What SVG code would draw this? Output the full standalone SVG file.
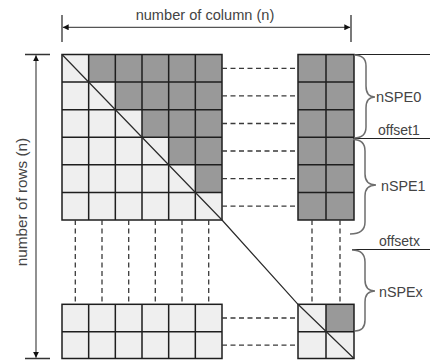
<svg xmlns="http://www.w3.org/2000/svg" width="430" height="364" viewBox="0 0 430 364">
  <defs>
    <style>
      .lt { fill: #efefef; }
      .dk { fill: #999999; }
      .grid { stroke: #1e1e1e; stroke-width: 1.5; fill: none; }
      .dash { stroke: #3a3a3a; stroke-width: 1.3; stroke-dasharray: 5 3.5; fill: none; }
      .dim { stroke: #555; stroke-width: 1.3; fill: none; }
      .tick { stroke: #333; stroke-width: 1.3; fill: none; }
      .brace { stroke: #6e6e6e; stroke-width: 1.5; fill: none; }
      .sep { stroke: #222; stroke-width: 1.2; fill: none; }
      .diag { stroke: #2a2a2a; stroke-width: 1.2; fill: none; }
      .lbl { font-family: "Liberation Sans", Arial, sans-serif; font-size: 14px; fill: #444; }
    </style>
    <marker id="arr" viewBox="0 0 8 8" refX="8" refY="4" markerWidth="6" markerHeight="6" orient="auto-start-reverse" markerUnits="userSpaceOnUse">
      <path d="M0,0 L8,4 L0,8 Z" fill="#111"/>
    </marker>
  </defs>

  <g id="main-grid">
    <rect class="lt" x="62" y="54.5" width="160" height="165.5"/>
    <polygon class="dk" points="88.67,54.5 222,54.5 222,192.42 195.33,192.42 195.33,164.83 168.67,164.83 168.67,137.25 142,137.25 142,109.67 115.33,109.67 115.33,82.08 88.67,82.08"/>
    <path class="grid" d="M88.67,54.5V220M115.33,54.5V220M142,54.5V220M168.67,54.5V220M195.33,54.5V220M62,82.08H222M62,109.67H222M62,137.25H222M62,164.83H222M62,192.42H222"/>
    <rect class="grid" x="62" y="54.5" width="160" height="165.5"/>
  </g>

  <g id="right-block">
    <rect class="dk" x="298" y="54.5" width="56" height="165.5"/>
    <path class="grid" d="M326,54.5V220M298,82.08H354M298,109.67H354M298,137.25H354M298,164.83H354M298,192.42H354"/>
    <rect class="grid" x="298" y="54.5" width="56" height="165.5"/>
  </g>

  <g id="bottom-grid">
    <rect class="lt" x="62" y="304.3" width="160" height="54.2"/>
    <path class="grid" d="M88.67,304.3V358.5M115.33,304.3V358.5M142,304.3V358.5M168.67,304.3V358.5M195.33,304.3V358.5M62,331.7H222"/>
    <rect class="grid" x="62" y="304.3" width="160" height="54.2"/>
  </g>

  <g id="bottom-right-block">
    <rect class="lt" x="298" y="304.3" width="56" height="54.2"/>
    <rect class="dk" x="326" y="304.3" width="28" height="27.4"/>
    <path class="grid" d="M326,304.3V358.5M298,331.7H354"/>
    <rect class="grid" x="298" y="304.3" width="56" height="54.2"/>
  </g>

  <g id="connectors">
    <!-- horizontal dashed links -->
    <path class="dash" d="M222,68.3H298M222,95.9H298M222,123.5H298M222,151H298M222,178.6H298M222,206.2H298M222,318H298M222,345.1H298"/>
    <!-- vertical dashed links -->
    <path class="dash" d="M75.3,220V304.3M102,220V304.3M128.7,220V304.3M155.3,220V304.3M182,220V304.3M208.7,220V304.3M312,220V304.3M340,220V304.3"/>
    <!-- diagonal -->
    <polyline class="diag" points="62,54.5 222,220 298,304.3 354,358.5"/>
    <!-- column dimension -->
    <path class="tick" d="M62,15V42M351,15V42"/>
    <line class="dim" x1="62.7" y1="27.3" x2="350.3" y2="27.3" marker-start="url(#arr)" marker-end="url(#arr)"/>
    <!-- row dimension -->
    <path class="tick" d="M25,54.5H50M25,358.5H50"/>
    <line class="dim" x1="36" y1="55.2" x2="36" y2="357.8" marker-start="url(#arr)" marker-end="url(#arr)"/>
    <!-- offset separators -->
    <path class="sep" d="M354,54.5H430M354,138.5H430M352,249.5H430"/>
    <!-- braces -->
    <path class="brace" d="M354,55 Q366,55 366,66 L366,86 Q366,97 375,97 Q366,97 366,108 L366,127 Q366,138 354,138"/>
    <path class="brace" d="M353,139.5 Q365,139.5 365,151 L365,174 Q365,185 376,185 Q365,185 365,196 L365,222 Q365,234 350,234"/>
    <path class="brace" d="M352,250 Q365,250 365,262 L365,280 Q365,291 375,291 Q365,291 365,302 L365,320 Q365,331 355,331"/>
  </g>

  <g id="labels">
    <text class="lbl" x="205" y="19.5" text-anchor="middle" style="font-size:14.6px">number of column (n)</text>
    <text class="lbl" transform="translate(26.5,202) rotate(-90)" text-anchor="middle" style="font-size:15.3px">number of rows (n)</text>
    <text class="lbl" x="376" y="101.5" style="font-size:14.6px">nSPE0</text>
    <text class="lbl" x="378" y="134.5">offset1</text>
    <text class="lbl" x="381" y="191" style="font-size:14.3px">nSPE1</text>
    <text class="lbl" x="379" y="246">offsetx</text>
    <text class="lbl" x="379" y="296.5" style="font-size:14.3px">nSPEx</text>
  </g>
</svg>
